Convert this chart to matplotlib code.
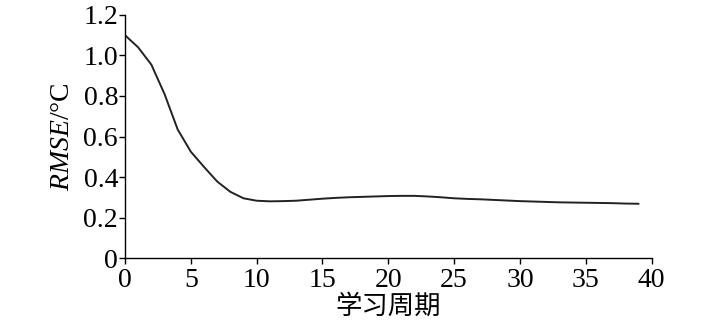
import matplotlib
matplotlib.use("Agg")
import matplotlib.pyplot as plt
import numpy as np

epochs = list(range(0, 40))
rmse = [1.10, 1.04, 0.955, 0.81, 0.635, 0.525, 0.45, 0.378, 0.327, 0.295,
        0.283, 0.280, 0.281, 0.283, 0.288, 0.293, 0.297, 0.300, 0.302, 0.304,
        0.306, 0.307, 0.307, 0.304, 0.300, 0.295, 0.292, 0.290, 0.287, 0.284,
        0.281, 0.279, 0.277, 0.275, 0.274, 0.273, 0.272, 0.271, 0.269, 0.268]
xticks = [0, 5, 10, 15, 20, 25, 30, 35, 40]
yticks = [0, 0.2, 0.4, 0.6, 0.8, 1.0, 1.2]
ytick_labels = ["0", "0.2", "0.4", "0.6", "0.8", "1.0", "1.2"]

plt.rcParams['font.family'] = ['Liberation Serif', 'Noto Sans CJK SC', 'DejaVu Sans']
plt.rcParams['mathtext.fontset'] = 'custom'
plt.rcParams['mathtext.it'] = 'Liberation Serif:italic'
plt.rcParams['mathtext.rm'] = 'Liberation Serif'

fig = plt.figure(figsize=(7.09, 3.25), dpi=100)
ax = fig.add_axes([0.1763, 0.206, 0.919 - 0.1763, 0.954 - 0.206])
ax.plot(epochs, rmse, color='#222222', lw=1.4)
ax.set_xlim(0, 40)
ax.set_ylim(0, 1.2)
ax.set_xticks(xticks)
ax.set_yticks(yticks)
ax.set_yticklabels(ytick_labels)
for s in ['top', 'right']:
    ax.spines[s].set_visible(False)
for s in ['left', 'bottom']:
    ax.spines[s].set_linewidth(1.0)
ax.tick_params(direction='out', length=4, width=1.0, labelsize=20)
ax.tick_params(axis='x', pad=3)
ax.tick_params(axis='y', pad=1)
ax.set_ylabel(r'$\mathit{RMSE}$/°C', fontsize=20, labelpad=6)
ax.set_xlabel('学习周期', fontsize=19, family=['Noto Sans CJK SC'], labelpad=0)
fig.savefig('out.png', dpi=100)
